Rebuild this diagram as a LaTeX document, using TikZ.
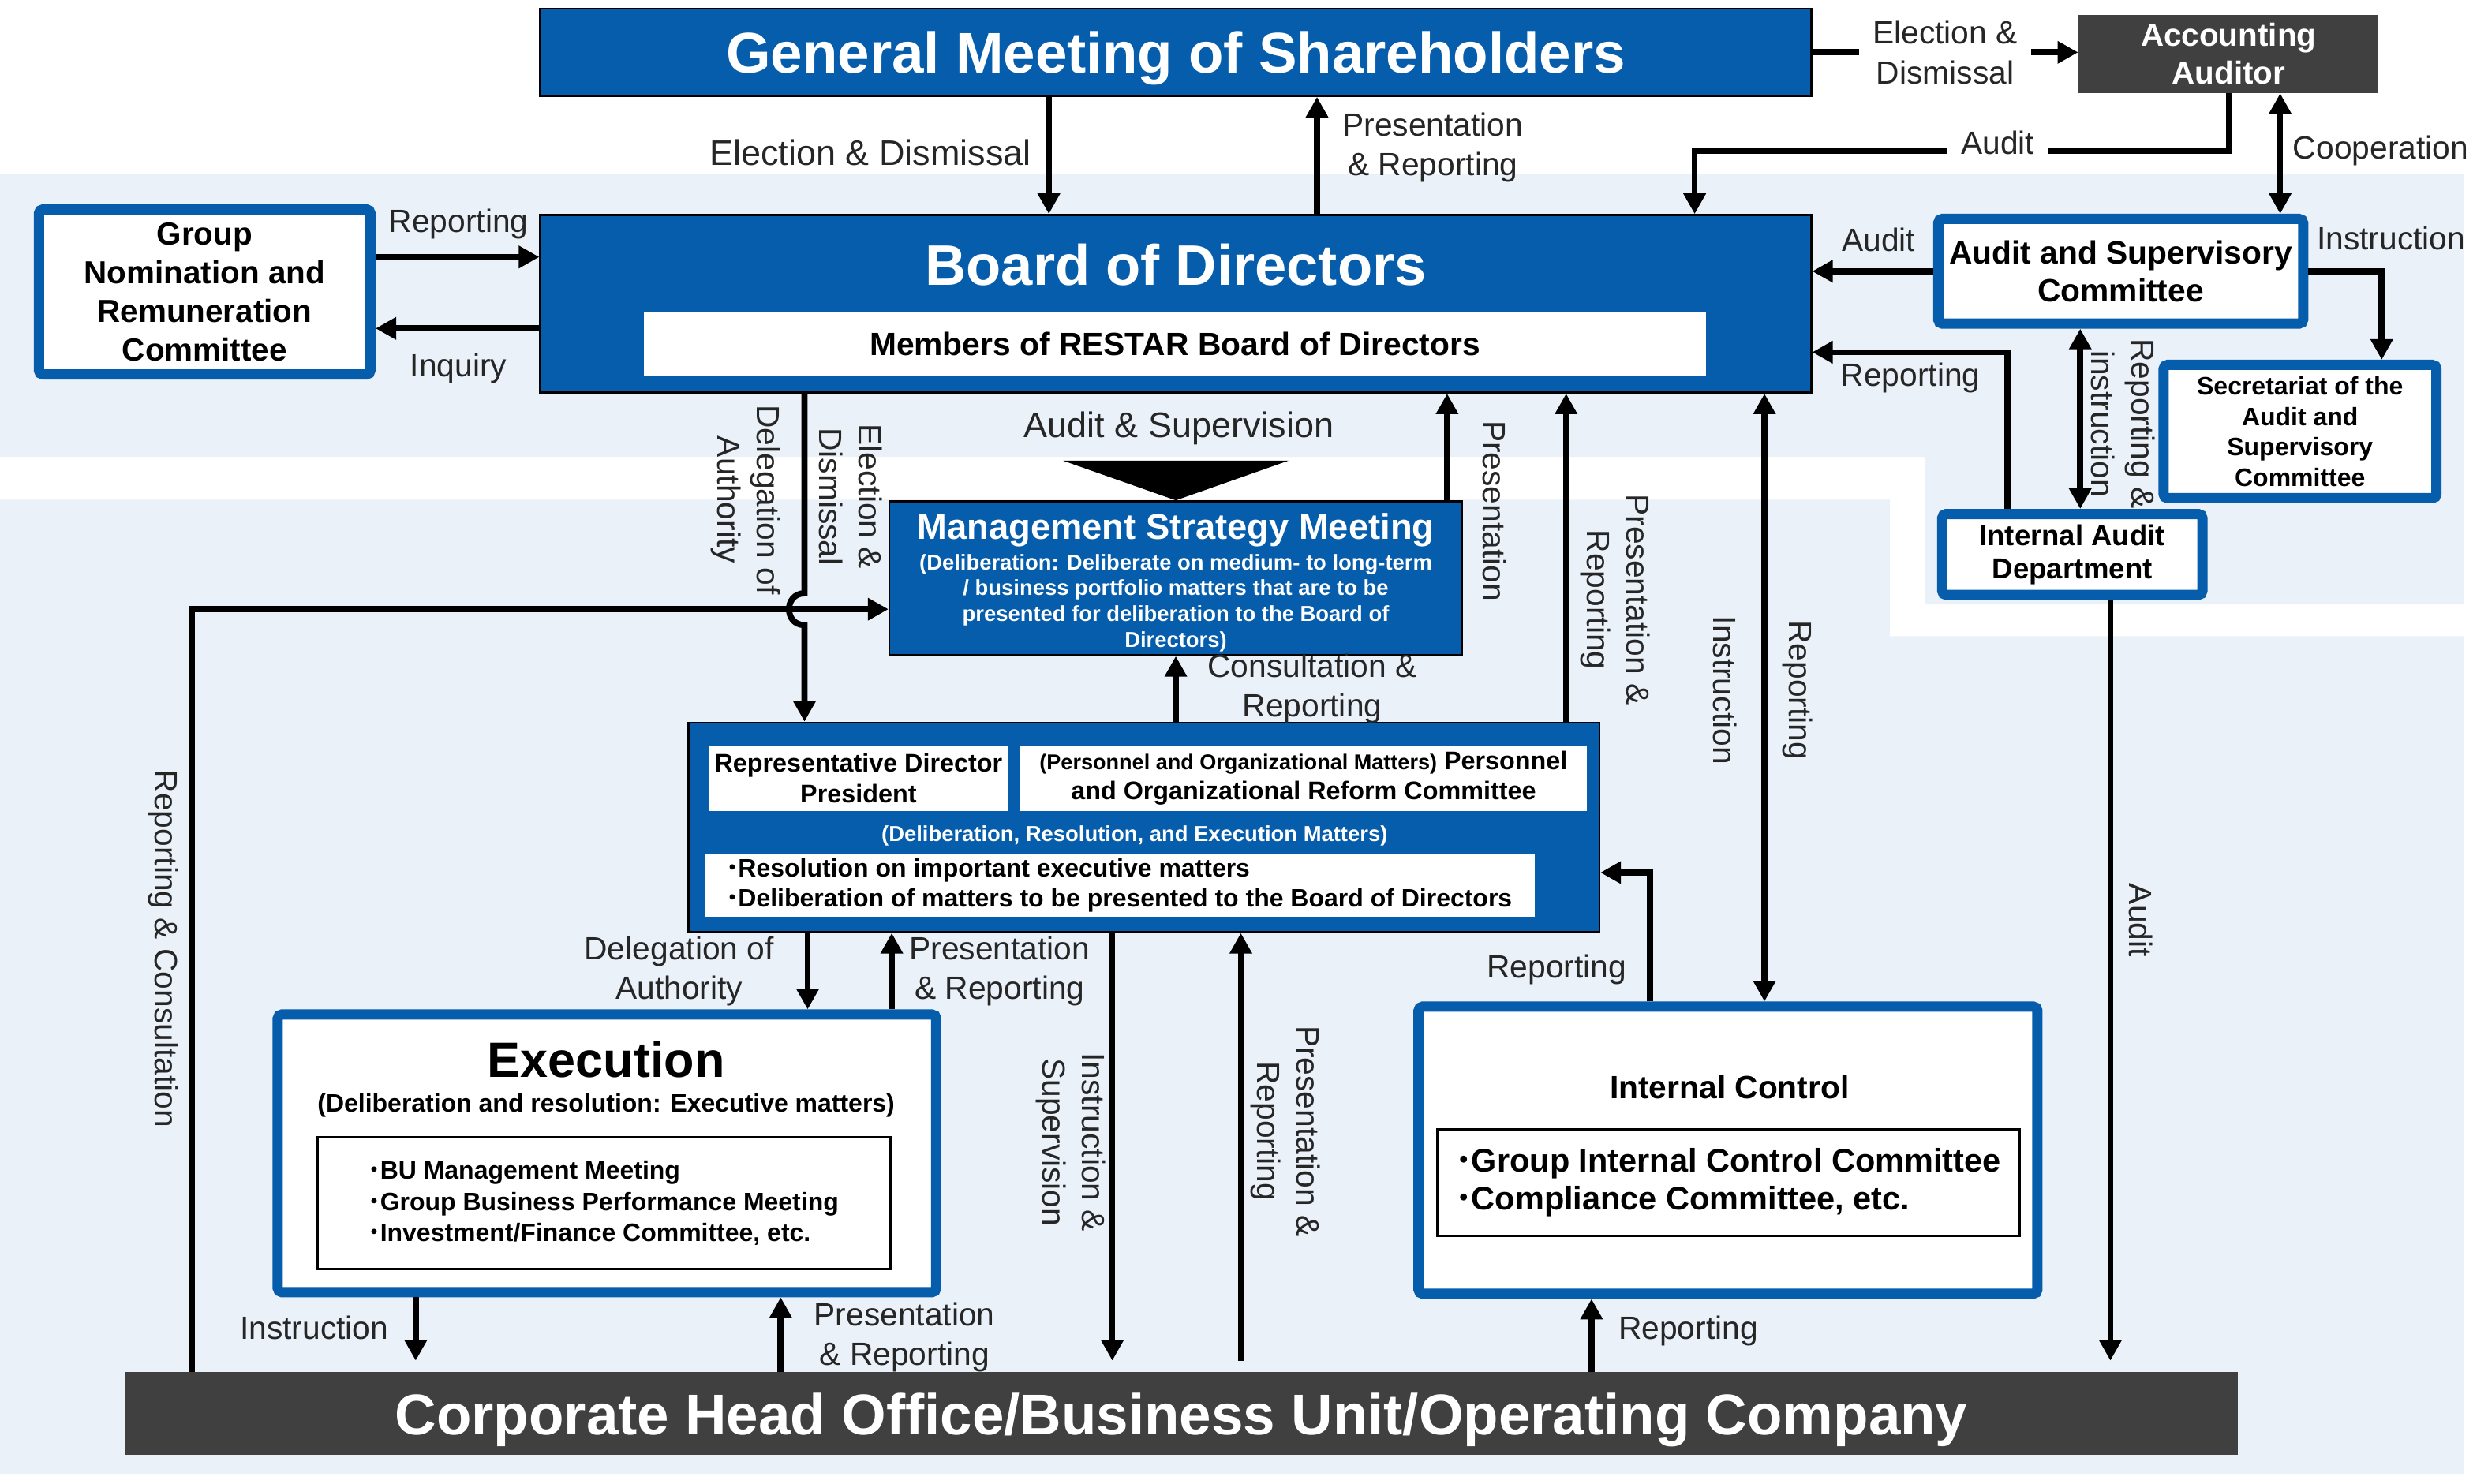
\documentclass[tikz,border=0pt]{standalone}
\usepackage{fontspec}
\setmainfont{Liberation Sans}
\newfontfamily\jpfont{Noto Sans CJK JP}
\usetikzlibrary{arrows.meta}

\definecolor{mainblue}{HTML}{055DAB}
\definecolor{paleblue}{HTML}{EAF1F9}
\definecolor{darkbar}{HTML}{404040}
\definecolor{labelgray}{HTML}{262626}

\newcommand{\pxu}{0.02011cm}
\newcommand{\setfs}[2]{\fontsize{#1}{#2}\selectfont}
\newcommand{\bul}{\makebox[0.45em][c]{\jpfont\mdseries ・}}

\begin{document}
\begin{tikzpicture}[x=0.02011cm, y=-0.02011cm,
  wh/.style 2 args={minimum width=#1*\pxu, minimum height=#2*\pxu},
  bluebox/.style={draw=black, line width=0.7pt, fill=mainblue, inner sep=0pt, text=white, align=center},
  greybox/.style={fill=darkbar, inner sep=0pt, text=white, align=center},
  framebox/.style={draw=mainblue, line width=3.7pt, fill=white, rounded corners=1.5pt, inner sep=0pt, align=center},
  whitebox/.style={fill=white, inner sep=0pt, align=center},
  listbox/.style={draw=black, line width=0.8pt, fill=white, inner sep=0pt, align=left},
  lbl/.style={text=labelgray, align=center, inner sep=1pt, font=\setfs{11.6}{14.3}},
  gaplbl/.style={lbl, fill=white, inner xsep=5pt, inner ysep=2pt},
  biglbl/.style={lbl, font=\setfs{12.8}{15}},
  vlbl/.style={lbl, rotate=-90},
  conn/.style={draw, line width=2.2pt, -{Triangle[length=7.4pt, width=7.7pt]}},
  both/.style={conn, {Triangle[length=7.4pt, width=7.7pt]}-{Triangle[length=7.4pt, width=7.7pt]}},
  gap/.style={shorten >=4pt},
]
\useasboundingbox (0,0) rectangle (1568,935);

% background bands
\fill[paleblue] (0,110) -- (1553,110) -- (1553,381) -- (1213,381) -- (1213,288) -- (0,288) -- cycle;
\fill[paleblue] (0,315) -- (1191,315) -- (1191,401) -- (1553,401) -- (1553,929) -- (0,929) -- cycle;

% top level
\node[bluebox, wh={801}{55}, text depth=0pt, font=\bfseries\setfs{20.7}{24}] (gms) at (741,33) {General Meeting of Shareholders};
\node[greybox, wh={189}{49}, font=\bfseries\setfs{11.5}{13.7}] (aa) at (1404.5,34) {Accounting\\Auditor};

\node[bluebox, wh={801}{112}] (bod) at (741,191.5) {};
\node[text=white, font=\bfseries\setfs{20.6}{24}] (bodtitle) at (741,167) {Board of Directors};
\node[whitebox, wh={669}{40}, font=\bfseries\setfs{11.6}{14}] (bodmem) at (740.5,217) {Members of RESTAR Board of Directors};

\node[framebox, wh={209}{104}, font=\bfseries\setfs{11.5}{13.9}] (gnrc) at (129,184) {Group\\Nomination and\\Remuneration\\Committee};
\node[framebox, wh={230}{66}, font=\bfseries\setfs{11.6}{13.7}] (asc) at (1336.5,171) {Audit and Supervisory\\Committee};
\node[framebox, wh={172}{84}, font=\bfseries\setfs{9.1}{11}] (sec) at (1449.5,272) {Secretariat of the\\Audit and\\Supervisory\\Committee};
\node[framebox, wh={164}{51}, font=\bfseries\setfs{10.4}{12}] (iad) at (1306,349.5) {Internal Audit\\Department};

% management strategy meeting
\node[bluebox, wh={361}{97}] (msm) at (741,364.5) {};
\node[text=white, font=\bfseries\setfs{12.9}{15}] (msmtitle) at (741,334) {Management Strategy Meeting};
\node[text=white, align=center, font=\bfseries\setfs{7.8}{9.3}] (msmnote) at (741,380) {(Deliberation: Deliberate on medium- to long-term\\/ business portfolio matters that are to be\\presented for deliberation to the Board of\\Directors)};
\fill (msm.north) -- ++(-71,-25) -- ++(142,0) -- cycle;

% executive committee
\node[bluebox, wh={574}{132}] (exc) at (721,521.5) {};
\node[whitebox, wh={188}{41}, font=\bfseries\setfs{9.2}{10.9}] (rep) at (541,490.5) {Representative Director\\President};
\node[whitebox, wh={357}{41}, font=\bfseries\setfs{9.2}{10.9}] (prc) at (821.5,490.5) {{\setfs{7.7}{10.9}(Personnel and Organizational Matters)} Personnel\\and Organizational Reform Committee};
\node[text=white, font=\bfseries\setfs{7.8}{9.3}] (excnote) at (715,527) {(Deliberation, Resolution, and Execution Matters)};
\node[whitebox, align=left, wh={523}{40}, font=\bfseries\setfs{9.1}{10.9}] (exclist) at (705.5,558) {\bul Resolution on important executive matters\\\bul Deliberation of matters to be presented to the Board of Directors};

% execution
\node[framebox, wh={415}{175}] (exe) at (382.5,727) {};
\node[font=\bfseries\setfs{17.9}{20}] (exetitle) at (382,668) {Execution};
\node[font=\bfseries\setfs{9.1}{11}] (exenote) at (382,697) {(Deliberation and resolution: Executive matters)};
\node[listbox, wh={361}{83}, font=\bfseries\setfs{9.1}{11.2}] (exelist) at (380.5,758.5) {\bul BU Management Meeting\\\bul Group Business Performance Meeting\\\bul Investment/Finance Committee, etc.};

% internal control
\node[framebox, wh={390}{181}] (ic) at (1089,725) {};
\node[font=\bfseries\setfs{11.6}{14}] (ictitle) at (1090,685) {Internal Control};
\node[listbox, wh={367}{67}, font=\bfseries\setfs{11.8}{13.7}] (iclist) at (1089.5,745.5) {\bul Group Internal Control Committee\\\bul Compliance Committee, etc.};

\node[greybox, wh={1332}{52}, text depth=0pt, font=\bfseries\setfs{20.7}{24}] (corp) at (744.5,891) {Corporate Head Office/Business Unit/Operating Company};

% shareholders, auditor and board
\draw[conn] (gms.east) -- node[gaplbl] (elecaa) {Election \&\\Dismissal} (gms.east -| aa.west);
\draw[conn] (gms.south -| 661,0) -- (bod.north -| 661,0);
\node[biglbl, anchor=east] (elecbod) at (652,96) {Election \& Dismissal};
\draw[conn] (bod.north -| 830,0) -- (gms.south -| 830,0);
\node[lbl] (presgms) at (903,93) {Presentation\\\& Reporting};
\draw[conn] (aa.south -| 1405,0) -- (1405,95) -| (bod.north -| 1068,0);
\node[gaplbl] (auditaa) at (1259,90) {Audit};
\draw[both] (aa.south -| 1437,0) -- (asc.north -| 1437,0);
\node[lbl, anchor=west] (coop) at (1443,95) {Cooperation};

% nomination committee
\draw[conn] (gnrc.east |- 0,162) -- (bod.west |- 0,162);
\node[lbl] (repgnrc) at (289,141) {Reporting};
\draw[conn] (bod.west |- 0,207) -- (gnrc.east |- 0,207);
\node[lbl] (inquiry) at (289,232) {Inquiry};

% audit side
\draw[conn] (asc.west |- 0,171) -- (bod.east |- 0,171);
\node[lbl] (auditasc) at (1184,151) {Audit};
\draw[conn] (asc.east |- 0,171) -| (sec.north -| 1501,0);
\node[lbl, anchor=west] (instrsec) at (1458,150) {Instruction};
\draw[both] (asc.south -| 1311,0) -- (iad.north -| 1311,0);
\node[vlbl] (repinstr) at (1338,267) {Reporting \&\\instruction};
\draw[conn] (iad.north -| 1265,0) |- (bod.east |- 0,222);
\node[lbl] (repiad) at (1204,238) {Reporting};
\draw[conn, gap] (iad.south -| 1330,0) -- (corp.north -| 1330,0);
\node[vlbl] (auditcorp) at (1349,580) {Audit};

% board down to management
\node[biglbl] (auditsup) at (743,270) {Audit \& Supervision};
\draw[conn] (msm.north -| 912,0) -- (bod.south -| 912,0);
\node[vlbl] (presmsm) at (942,322) {Presentation};
\draw[conn] (exc.north -| 987,0) -- (bod.south -| 987,0);
\node[vlbl] (presexc) at (1018,378) {Presentation \&\\Reporting};
\draw[both] (bod.south -| 1112,0) -- (ic.north -| 1112,0);
\node[vlbl] (instric) at (1087,435) {Instruction};
\node[vlbl] (repic) at (1133,435) {Reporting};
\draw[conn] (corp.north -| 121,0) |- (msm.west |- 0,384);
\node[vlbl] (repcons) at (103,598) {Reporting \& Consultation};
\draw[conn] (bod.south -| 507,0) -- (507,374) .. controls (494,374) and (494,394) .. (507,394) -- (exc.north -| 507,0);
\node[vlbl] (delegbod) at (470,315) {Delegation of\\Authority};
\node[vlbl] (elecexc) at (536,313) {Election \&\\Dismissal};
\draw[conn] (exc.north -| 741,0) -- (msm.south -| 741,0);
\node[lbl] (consrep) at (827,434) {Consultation \&\\Reporting};

% executive committee down
\draw[conn] (exc.south -| 509,0) -- (exe.north -| 509,0);
\node[lbl] (delegexe) at (428,612) {Delegation of\\Authority};
\draw[conn] (exe.north -| 562,0) -- (exc.south -| 562,0);
\node[lbl] (presexe) at (630,612) {Presentation\\\& Reporting};
\draw[conn, gap] (exc.south -| 701,0) -- (corp.north -| 701,0);
\node[vlbl] (instrsup) at (675,720) {Instruction \&\\Supervision};
\draw[conn, shorten <=4pt] (corp.north -| 782,0) -- (exc.south -| 782,0);
\node[vlbl] (prescorp) at (810,713) {Presentation \&\\Reporting};
\draw[conn] (ic.north -| 1040,0) |- (exc.east |- 0,550);
\node[lbl] (repicexc) at (981,611) {Reporting};

% bottom row
\draw[conn, gap] (exe.south -| 262,0) -- (corp.north -| 262,0);
\node[lbl] (instrcorp) at (198,837) {Instruction};
\draw[conn] (corp.north -| 492,0) -- (exe.south -| 492,0);
\node[lbl] (presbot) at (570,843) {Presentation\\\& Reporting};
\draw[conn] (corp.north -| 1003,0) -- (ic.south -| 1003,0);
\node[lbl] (repbot) at (1064,839) {Reporting};
\end{tikzpicture}
\end{document}
